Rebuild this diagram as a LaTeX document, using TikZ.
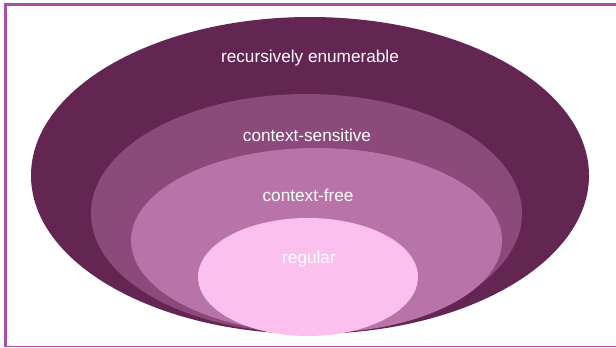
\documentclass[tikz,border=0pt]{standalone}
\usepackage{fontspec}
\setmainfont{Liberation Sans}
\definecolor{frame}{HTML}{A94FAA}
\definecolor{reC}{HTML}{632652}
\definecolor{csC}{HTML}{8B4A7A}
\definecolor{cfC}{HTML}{B874A8}
\definecolor{rgC}{HTML}{FCC0EE}
\begin{document}
\begin{tikzpicture}[x=1pt,y=-1pt,
  lbl/.style={text=white,font=\fontsize{17.2}{19}\selectfont,inner sep=0pt}]
\useasboundingbox (0,0) rectangle (616,348);
\fill[white] (0,0) rectangle (616,348);
\fill[reC] (310,175.5) ellipse [x radius=279, y radius=158.5];
\fill[csC] (306.5,213.5) ellipse [x radius=215.5, y radius=119.5];
\fill[cfC] (316.5,240.5) ellipse [x radius=185.5, y radius=92.5];
\fill[rgC] (308,277) ellipse [x radius=110, y radius=59];
\node[lbl] (re) at (310,58) {recursively enumerable};
\node[lbl] (cs) at (307,135) {context-sensitive};
\node[lbl] (cf) at (308,195) {context-free};
\node[lbl] (rg) at (309,259) {regular};
\draw[frame,line width=3pt] (5.5,347) -- (5.5,4.8) -- (616,4.8);
\draw[frame,line width=1.2pt] (4,346.8) -- (616,346.8);
\end{tikzpicture}
\end{document}
